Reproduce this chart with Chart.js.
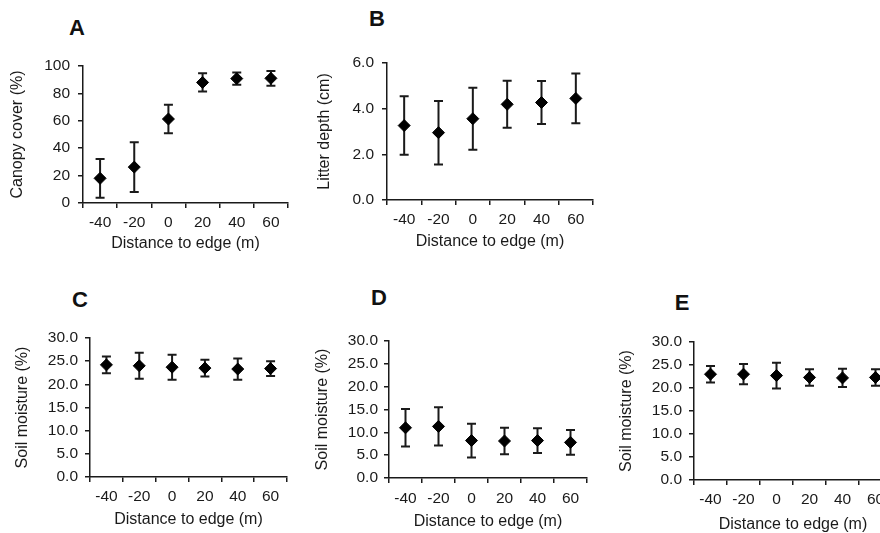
<!DOCTYPE html>
<html>
<head>
<meta charset="utf-8">
<script src="https://cdn.jsdelivr.net/npm/chart.js@4.4.1/dist/chart.umd.min.js"></script>
<style>
  html, body { margin: 0; padding: 0; background: #ffffff; }
  body { width: 880px; height: 533px; overflow: hidden; position: relative; }
  canvas { position: absolute; }
  .letter { position: absolute; font-family: "Liberation Sans", Arial, sans-serif; font-weight: bold;
            font-size: 22px; line-height: 1; color: #111; transform: translate(-50%, -50%); }
</style>
</head>
<body>
<div class="letter" style="left:77px;top:28px">A</div>
<div class="letter" style="left:377px;top:19px">B</div>
<div class="letter" style="left:80px;top:300px">C</div>
<div class="letter" style="left:379px;top:298px">D</div>
<div class="letter" style="left:682px;top:303px">E</div>
<canvas id="cA" width="300" height="217" style="left:0px;top:40px"></canvas>
<canvas id="cB" width="300" height="215" style="left:300px;top:40px"></canvas>
<canvas id="cC" width="300" height="223" style="left:0px;top:310px"></canvas>
<canvas id="cD" width="300" height="225" style="left:300px;top:310px"></canvas>
<canvas id="cE" width="310" height="228" style="left:600px;top:310px"></canvas>
<script>
// ---- data ----
const distances = ['-40', '-20', '0', '20', '40', '60'];
const xTitle = 'Distance to edge (m)';

const canopyMean = [18.0, 26.2, 61.3, 88.0, 90.8, 91.0];
const canopyErr  = [14.2, 18.2, 10.4, 6.7, 4.4, 5.4];
const canopyTicks = [0, 20, 40, 60, 80, 100];

const litterMean = [3.26, 2.95, 3.56, 4.19, 4.27, 4.45];
const litterErr  = [1.28, 1.39, 1.36, 1.03, 0.94, 1.09];
const litterTicks = [0, 2, 4, 6];

const moistCMean = [24.2, 24.0, 23.7, 23.5, 23.3, 23.4];
const moistCErr  = [1.8, 2.8, 2.7, 1.8, 2.3, 1.6];

const moistDMean = [11.0, 11.3, 8.2, 8.1, 8.2, 7.8];
const moistDErr  = [4.1, 4.2, 3.7, 2.9, 2.7, 2.7];

const moistEMean = [23.0, 23.0, 22.7, 22.3, 22.2, 22.3];
const moistEErr  = [1.8, 2.2, 2.8, 1.8, 2.0, 1.8];
const moistTicks = [0, 5, 10, 15, 20, 25, 30];

// ---- drawing ----
const FONT = '"Liberation Sans", Arial, sans-serif';
const FS = 15.5;      // tick labels
const FT = 16;        // axis titles
const LHT = FT * 1.2;
const INK = '#1a1a1a';

const errorBarPlugin = {
  id: 'errorBars',
  beforeDatasetsDraw(chart) {
    const ctx = chart.ctx;
    const yScale = chart.scales.y;
    chart.data.datasets.forEach((ds, di) => {
      const meta = chart.getDatasetMeta(di);
      const errs = ds.errorBars || [];
      meta.data.forEach((pt, i) => {
        const m = ds.data[i], e = errs[i];
        if (e == null) return;
        const x = pt.x;
        const yt = yScale.getPixelForValue(m + e);
        const yb = yScale.getPixelForValue(m - e);
        ctx.save();
        ctx.strokeStyle = INK;
        ctx.lineWidth = 2;
        ctx.beginPath();
        ctx.moveTo(x, yt); ctx.lineTo(x, yb);
        ctx.moveTo(x - 4.5, yt); ctx.lineTo(x + 4.5, yt);
        ctx.moveTo(x - 4.5, yb); ctx.lineTo(x + 4.5, yb);
        ctx.stroke();
        ctx.restore();
      });
    });
  }
};

function makePanel(id, p) {
  const el = document.getElementById(id);
  const padLeft = p.yTitleX - (4 + LHT / 2) - p.cx;
  const padTop = p.top - p.cy;
  const padRight = p.cx + p.cw - p.right;
  const yWidth = p.left - (p.cx + padLeft);
  const xHeight = (p.cy + p.ch) - p.bottom;
  return new Chart(el, {
    type: 'line',
    data: {
      labels: p.labels,
      datasets: [{
        data: p.mean,
        errorBars: p.err,
        showLine: false,
        pointStyle: 'rectRot',
        pointRadius: 6,
        pointHoverRadius: 6,
        pointBackgroundColor: '#000',
        pointBorderColor: '#000',
        pointBorderWidth: 1
      }]
    },
    options: {
      responsive: false,
      animation: false,
      devicePixelRatio: 1,
      layout: { padding: { left: padLeft, top: padTop, right: padRight, bottom: 0 } },
      plugins: { legend: { display: false }, tooltip: { enabled: false }, title: { display: false } },
      scales: {
        x: {
          type: 'category',
          offset: true,
          grid: { display: true, drawOnChartArea: false, drawTicks: true, tickLength: 5,
                  offset: true, color: INK, lineWidth: 1.5 },
          border: { display: true, color: INK, width: 1.5 },
          ticks: { color: INK, font: { family: FONT, size: FS }, padding: p.xTickPad, maxRotation: 0, autoSkip: false },
          title: { display: true, text: xTitle, color: INK, font: { family: FONT, size: FT },
                   padding: { top: 0, bottom: 4 } },
          afterFit(s) { s.height = xHeight; }
        },
        y: {
          type: 'linear',
          min: p.ticks[0],
          max: p.ticks[p.ticks.length - 1],
          afterBuildTicks(s) { s.ticks = p.ticks.map(v => ({ value: v })); },
          grid: { display: true, drawOnChartArea: false, drawTicks: true, tickLength: 5,
                  color: INK, lineWidth: 1.5 },
          border: { display: true, color: INK, width: 1.5 },
          ticks: { color: INK, font: { family: FONT, size: FS }, padding: p.yTickPad,
                   callback: v => p.decimals ? Number(v).toFixed(1) : String(v) },
          title: { display: true, text: p.yTitle, color: INK, font: { family: FONT, size: FT },
                   padding: { top: 4, bottom: 0 } },
          afterFit(s) { s.width = yWidth; }
        }
      }
    },
    plugins: [errorBarPlugin]
  });
}

makePanel('cA', { cx: 0, cy: 40, cw: 300, ch: 217, left: 83, right: 288, top: 66, bottom: 203,
  yTitleX: 18, labels: distances, mean: canopyMean, err: canopyErr, ticks: canopyTicks,
  decimals: false, yTitle: 'Canopy cover (%)', xTickPad: 5, yTickPad: 8 });
makePanel('cB', { cx: 300, cy: 40, cw: 300, ch: 215, left: 387, right: 595, top: 63, bottom: 200,
  yTitleX: 325, labels: distances, mean: litterMean, err: litterErr, ticks: litterTicks,
  decimals: true, yTitle: 'Litter depth (cm)', xTickPad: 5.5, yTickPad: 8 });
makePanel('cC', { cx: 0, cy: 310, cw: 300, ch: 223, left: 90, right: 287, top: 338, bottom: 477,
  yTitleX: 23, labels: distances, mean: moistCMean, err: moistCErr, ticks: moistTicks,
  decimals: true, yTitle: 'Soil moisture (%)', xTickPad: 5.5, yTickPad: 7 });
makePanel('cD', { cx: 300, cy: 310, cw: 300, ch: 225, left: 389, right: 587, top: 341, bottom: 478,
  yTitleX: 323, labels: distances, mean: moistDMean, err: moistDErr, ticks: moistTicks,
  decimals: true, yTitle: 'Soil moisture (%)', xTickPad: 6, yTickPad: 6 });
makePanel('cE', { cx: 600, cy: 310, cw: 310, ch: 228, left: 694, right: 892, top: 342, bottom: 480,
  yTitleX: 627, labels: distances, mean: moistEMean, err: moistEErr, ticks: moistTicks,
  decimals: true, yTitle: 'Soil moisture (%)', xTickPad: 5.5, yTickPad: 7 });
</script>
</body>
</html>
